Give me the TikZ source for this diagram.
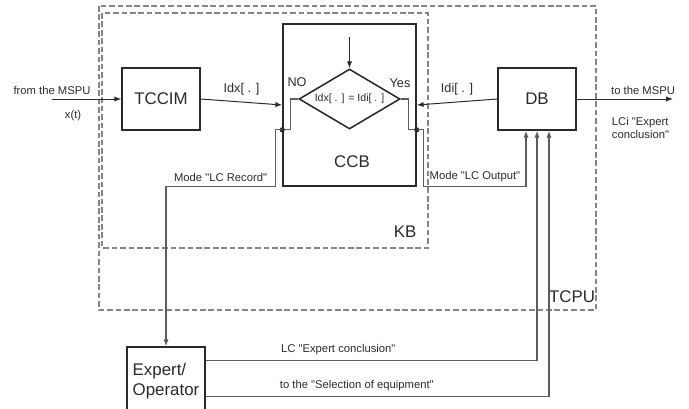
\documentclass[tikz,border=0pt]{standalone}
\usepackage{fontspec}
\setmainfont{Liberation Sans}[Ligatures=TeXOff]
\usepackage{xcolor}
\usepackage{tikz}
\usetikzlibrary{positioning,arrows.meta,shapes.geometric,calc}
\definecolor{tdark}{HTML}{2A2A2A}
\definecolor{tgrey}{HTML}{858585}

\begin{document}
\begin{tikzpicture}[x=0.025cm, y=-0.025cm, font=\fontsize{8}{9.6}\selectfont, text=tdark,
  blk/.style={draw=tdark, line width=1.1pt, minimum width=1.95cm, minimum height=1.55cm, font=\fontsize{12}{14}\selectfont},
  grp/.style={draw=tgrey, line width=0.8pt, dash pattern=on 4pt off 2pt},
  arr/.style={-{Latex[length=1.7mm,width=1.3mm]}, draw=tdark, line width=0.7pt},
  gln/.style={draw=tgrey!70!black, line width=0.8pt},
  big/.style={font=\fontsize{12}{14}\selectfont},
  mid/.style={font=\fontsize{9}{11}\selectfont},
  dot/.style={circle, fill=tdark, inner sep=0pt, minimum size=1.3mm}]
\useasboundingbox (0,0) rectangle (689,408);
\clip (0,0) rectangle (689,408);
% frames
\draw[grp] (99,6) rectangle (596,310);
\draw[grp] (102,13) rectangle (428,248);
\node[big, anchor=south east] (tcpu) at (600,308) {TCPU};
\node[big] (kb) at (405,232) {KB};
% blocks
\node[blk] (tccim) at (161,99) {TCCIM};
\node[blk, minimum width=3.325cm, minimum height=4.05cm] (ccb) at (349.5,105) {};
\node[big] (ccbl) at (352,162) {CCB};
\node[diamond, aspect=1.7, draw=tdark, line width=1.1pt, inner sep=0pt, minimum width=2.525cm, minimum height=1.5cm,
  font=\fontsize{7.5}{9}\selectfont] (dia) at (349.5,99) {Idx[ . ] = Idi[ . ]};
\node[blk] (db) at (537,99) {DB};
\node[blk, minimum height=1.7cm, align=left] (exp) at (166,381) {Expert/\\Operator};
% inputs and outputs
\coordinate (in) at (52,99);
\coordinate (out) at (673,99);
\coordinate (ctop) at (349.5,37);
\draw[arr] (in) -- (tccim.west);
\node (from) at (52,90) {from the MSPU};
\node (xt) at (73,116) {x(t)};
\draw[arr] (tccim.east) -- node[mid, above=1pt] (idx) {Idx[ . ]} (ccb.west);
\draw[arr] (db.west) -- node[mid, above=1pt] (idi) {Idi[ . ]} (ccb.east);
\draw[arr] (db.east) -- (out);
\node (to) at (643,90) {to the MSPU};
\node[align=left, anchor=north west] (lci) at (607,112) {LCi "Expert\\conclusion"};
\draw[arr] (ctop) -- (dia.north);
\node[mid] (no) at (297,82) {NO};
\node[mid] (yes) at (400,83) {Yes};
% modes
\coordinate (dl) at (ccb.west |- dia.south);
\coordinate (dr) at (ccb.east |- dia.south);
\draw[gln] (dia.west) -- ++(-8,0) |- (dl);
\draw[gln] (dia.east) -- ++(8,0) |- (dr);
\node[dot] (dotl) at (dl) {};
\node[dot] (dotr) at (dr) {};
\draw[arr, gln] (dl) -- ++(-7,0) -- ++(0,57) -| node[pos=0.25, above] (rec) {Mode "LC Record"} (exp.north);
\draw[arr, gln] (dr) -- ++(7,0) -- ++(0,57) -| node[pos=0.25, above] (outm) {Mode "LC Output"} ($(db.south)+(-11,0)$);
% expert feedback
\draw[arr, gln] ($(exp.north east)+(0,14)$) -| node[pos=0.2, above] (lce) {LC "Expert conclusion"} (db.south);
\draw[arr, gln] ($(exp.north east)+(0,50)$) -| node[pos=0.22, above] (sel) {to the "Selection of equipment"} ($(db.south)+(12,0)$);
\end{tikzpicture}
\end{document}
